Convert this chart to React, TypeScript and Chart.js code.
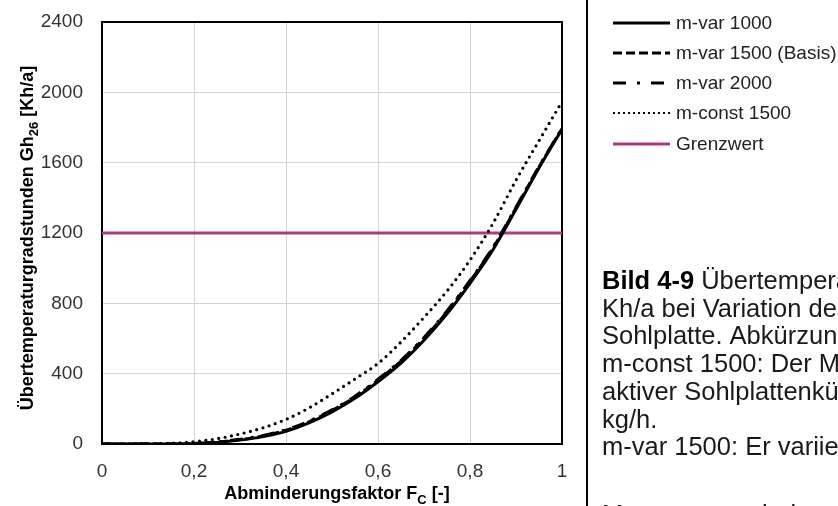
import React, { useEffect, useRef } from 'react';
import { Chart, registerables } from 'chart.js';

Chart.register(...registerables);

// ---- data ----
const fcValues = [0, 0.05, 0.1, 0.15, 0.2, 0.25, 0.3, 0.35, 0.4, 0.45, 0.5, 0.55, 0.6, 0.65, 0.7, 0.75, 0.8, 0.85, 0.9, 0.95, 1];
const mVar1000 = [0, 0, 0, 0, 2, 9, 22, 42, 72, 120, 183, 260, 354, 460, 590, 740, 914, 1105, 1335, 1570, 1790];
const mVar1500 = [0, 0, 0, 0, 3, 11, 25, 46, 78, 126, 190, 268, 363, 471, 601, 752, 925, 1115, 1343, 1576, 1793];
const mVar2000 = [0, 0, 0, 0, 3, 12, 27, 48, 81, 130, 194, 272, 368, 476, 606, 757, 930, 1119, 1347, 1579, 1795];
const mConst1500 = [0, 0, 1, 4, 13, 30, 57, 92, 140, 205, 285, 370, 458, 580, 720, 870, 1046, 1255, 1500, 1725, 1947];
const grenzwert = 1200;
const xRange = [0, 1];
const yTicks = [0, 400, 800, 1200, 1600, 2000, 2400];
const xTicks = [0, 0.2, 0.4, 0.6, 0.8, 1];
const seriesLabels = ['m-var 1000', 'm-var 1500 (Basis)', 'm-var 2000', 'm-const 1500', 'Grenzwert'];
const xTitle = [{ t: 'Abminderungsfaktor F' }, { t: 'C', sub: true }, { t: ' [-]' }];
const yTitle = [{ t: 'Übertemperaturgradstunden Gh' }, { t: '26', sub: true }, { t: ' [Kh/a]' }];
const captionBold = 'Bild 4-9';
const captionLines = [
  ' Übertemperaturgradstunden Gh26 in',
  'Kh/a bei Variation des Massenstroms der',
  'Sohlplatte. Abkürzungen:',
  'm-const 1500: Der Massenstrom bei',
  'aktiver Sohlplattenkühlung beträgt 1500',
  'kg/h.',
  'm-var 1500: Er variiert zwischen dem',
  'Massenstrom bei passiver und aktiver',
];

const FONT = '"Liberation Sans", Arial, Helvetica, sans-serif';
const MAGENTA = '#b23a7a';

const legendStyles = [
  { dash: [], width: 3 },
  { dash: [9, 4], width: 3 },
  { dash: [13, 11, 3, 11], width: 3 },
  { dash: [2, 3], width: 2 },
  { dash: [], width: 3 },
];

function drawRich(ctx: CanvasRenderingContext2D, parts: { t: string; sub?: boolean }[], x: number, y: number, size: number, weight: string) {
  const main = `${weight} ${size}px ${FONT}`;
  const sub = `${weight} ${Math.round(size * 0.7)}px ${FONT}`;
  let total = 0;
  const widths = parts.map((p) => {
    ctx.font = p.sub ? sub : main;
    const w = ctx.measureText(p.t).width;
    total += w;
    return w;
  });
  let cx = x - total / 2;
  ctx.textAlign = 'left';
  ctx.textBaseline = 'alphabetic';
  parts.forEach((p, i) => {
    ctx.font = p.sub ? sub : main;
    ctx.fillText(p.t, cx, y + (p.sub ? size * 0.28 : 0));
    cx += widths[i];
  });
}

const framePlugin = {
  id: 'frame',
  beforeDatasetsDraw(chart: any) {
    const { ctx, chartArea: a } = chart;
    ctx.save();
    ctx.strokeStyle = '#000';
    ctx.lineWidth = 2;
    ctx.strokeRect(a.left, a.top, a.right - a.left, a.bottom - a.top);
    ctx.restore();
  },
  afterDraw(chart: any) {
    const { ctx, chartArea: a } = chart;
    ctx.save();
    ctx.fillStyle = '#000';
    // axis titles
    drawRich(ctx, xTitle, (a.left + a.right) / 2 + 5, 499, 18, 'bold');
    ctx.save();
    ctx.translate(33, 238);
    ctx.rotate(-Math.PI / 2);
    drawRich(ctx, yTitle, 0, 0, 18, 'bold');
    ctx.restore();

    // separator
    ctx.fillStyle = '#000';
    ctx.fillRect(586, 0, 2, 506);

    // legend
    const rows = [23, 53, 83, 113, 144];
    chart.data.datasets.forEach((ds: any, i: number) => {
      const y = rows[i];
      const st = legendStyles[i];
      ctx.beginPath();
      ctx.setLineDash(st.dash);
      ctx.lineWidth = st.width;
      ctx.strokeStyle = ds.borderColor;
      ctx.lineCap = 'butt';
      ctx.moveTo(613, y);
      ctx.lineTo(670, y);
      ctx.stroke();
      ctx.setLineDash([]);
      ctx.fillStyle = '#222';
      ctx.font = `19px ${FONT}`;
      ctx.textAlign = 'left';
      ctx.textBaseline = 'middle';
      ctx.fillText(seriesLabels[i], 676, y + 1);
    });

    // caption
    ctx.textBaseline = 'alphabetic';
    ctx.textAlign = 'left';
    ctx.fillStyle = '#000';
    ctx.font = `bold 25.5px ${FONT}`;
    ctx.fillText(captionBold, 602, 289);
    const bw = ctx.measureText(captionBold).width;
    ctx.font = `25.5px ${FONT}`;
    ctx.fillStyle = '#1a1a1a';
    captionLines.forEach((line, i) => {
      const y = i < 7 ? 289 + i * 27.7 : 523;
      ctx.fillText(line, i === 0 ? 602 + bw : 602, y);
    });
    ctx.restore();
  },
};

export default function App() {
  const ref = useRef<HTMLCanvasElement>(null);
  useEffect(() => {
    const toPts = (arr: number[]) => arr.map((v, i) => ({ x: fcValues[i], y: v }));
    const chart = new Chart(ref.current as HTMLCanvasElement, {
      type: 'line',
      data: {
        datasets: [
          { label: seriesLabels[0], data: toPts(mVar1000), borderColor: '#000', borderWidth: 3, pointRadius: 0, cubicInterpolationMode: 'monotone' },
          { label: seriesLabels[1], data: toPts(mVar1500), borderColor: '#000', borderWidth: 3, borderDash: [9, 4], pointRadius: 0, cubicInterpolationMode: 'monotone' },
          { label: seriesLabels[2], data: toPts(mVar2000), borderColor: '#000', borderWidth: 3, borderDash: [13, 8, 3, 8], pointRadius: 0, cubicInterpolationMode: 'monotone' },
          { label: seriesLabels[3], data: toPts(mConst1500), borderColor: '#000', borderWidth: 3.2, borderDash: [0, 6.5], borderCapStyle: 'round', pointRadius: 0, cubicInterpolationMode: 'monotone' },
          { label: seriesLabels[4], data: [{ x: xRange[0], y: grenzwert }, { x: xRange[1], y: grenzwert }], borderColor: MAGENTA, borderWidth: 3, pointRadius: 0 },
        ] as any,
      },
      options: {
        animation: false,
        responsive: false,
        devicePixelRatio: 1,
        layout: { padding: { left: 0, top: 22, right: 276, bottom: 0 } },
        plugins: { legend: { display: false }, tooltip: { enabled: false } },
        scales: {
          x: {
            type: 'linear',
            min: xRange[0],
            max: xRange[1],
            afterFit: (s: any) => { s.height = 62; s.paddingLeft = 0; s.paddingRight = 0; },
            afterBuildTicks: (s: any) => { s.ticks = xTicks.map((v) => ({ value: v })); },
            ticks: {
              padding: 16,
              color: '#333',
              font: { family: FONT, size: 19 },
              callback: (v: any) => String(v).replace('.', ','),
            },
            grid: { color: '#d4d4d4', lineWidth: 1, drawTicks: false },
            border: { display: false },
          },
          y: {
            type: 'linear',
            min: yTicks[0],
            max: yTicks[yTicks.length - 1],
            afterFit: (s: any) => { s.width = 102; s.paddingTop = 0; s.paddingBottom = 0; },
            afterBuildTicks: (s: any) => { s.ticks = yTicks.map((v) => ({ value: v })); },
            ticks: {
              padding: 19,
              color: '#333',
              font: { family: FONT, size: 19 },
              callback: (v: any) => String(v),
            },
            grid: { color: '#d4d4d4', lineWidth: 1, drawTicks: false },
            border: { display: false },
          },
        },
      },
      plugins: [framePlugin],
    });
    return () => chart.destroy();
  }, []);
  return (
    <div style={{ position: 'absolute', left: 0, top: 0, width: 838, height: 506, background: '#fff' }}>
      <canvas ref={ref} width={838} height={506} style={{ width: 838, height: 506, display: 'block' }} />
    </div>
  );
}
